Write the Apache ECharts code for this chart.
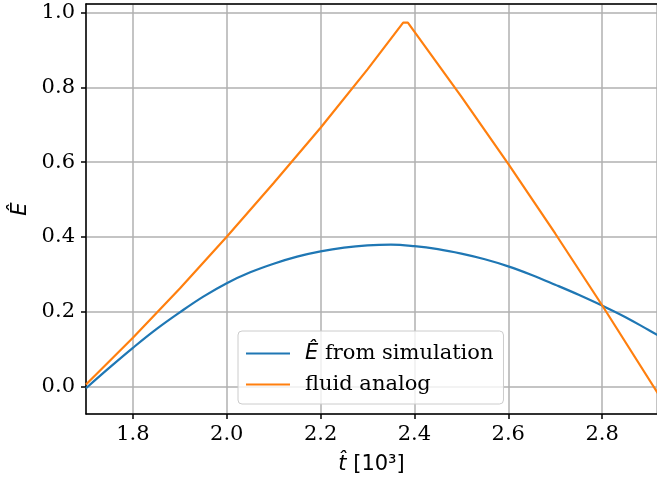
<!DOCTYPE html>
<html>
<head>
<meta charset="utf-8">
<script src="https://cdn.jsdelivr.net/npm/echarts@6/dist/echarts.min.js"></script>
<style>
  html, body { margin: 0; padding: 0; background: #fff; }
  #chart { width: 657px; height: 485px; }
</style>
</head>
<body>
<div id="chart"></div>
<script>
// Time axis (units of 10^3) and energy values for the two curves
const simT   = [1.70, 1.75, 1.80, 1.85, 1.90, 1.95, 2.00, 2.05, 2.10, 2.15, 2.20, 2.25, 2.30,
                2.35, 2.40, 2.45, 2.50, 2.55, 2.60, 2.65, 2.70, 2.75, 2.80, 2.85, 2.90, 2.92];
const simE   = [-0.005, 0.050, 0.103, 0.153, 0.198, 0.240, 0.276, 0.305, 0.328, 0.347, 0.361, 0.371, 0.377,
                0.379, 0.375, 0.367, 0.355, 0.340, 0.321, 0.298, 0.272, 0.245, 0.216, 0.185, 0.150, 0.136];

const fluidT = [1.70, 1.80, 1.90, 2.00, 2.10, 2.20, 2.30, 2.376, 2.386, 2.50, 2.60, 2.70, 2.80, 2.92];
const fluidE = [0.005, 0.130, 0.262, 0.400, 0.544, 0.692, 0.848, 0.973, 0.973, 0.775, 0.595, 0.409, 0.217, -0.021];

const xRange = [1.70, 2.917];
const yRange = [-0.074, 1.023];

const seriesNames = ['Ê from simulation', 'fluid analog'];
const seriesColors = ['#1f77b4', '#ff7f0e'];

const serif = '"DejaVu Serif", serif';
const sans = '"DejaVu Sans", sans-serif';
const fs = 21;

const pairs = (xs, ys) => xs.map((x, i) => [x, ys[i]]);

const chart = echarts.init(document.getElementById('chart'), null, { renderer: 'canvas' });

chart.setOption({
  animation: false,
  backgroundColor: '#ffffff',
  grid: { left: 86, right: 0, top: 4, bottom: 71 },
  xAxis: [
    {
      type: 'value',
      min: xRange[0], max: xRange[1],
      minInterval: 0.2, maxInterval: 0.2,
      name: '{i|t\u0302} [10³]',
      nameLocation: 'middle',
      nameGap: 40,
      nameTextStyle: {
        fontFamily: sans, fontSize: fs, color: '#000',
        rich: { i: { fontFamily: sans, fontStyle: 'italic', fontSize: fs, color: '#000' } }
      },
      axisLine: { show: true, onZero: false, lineStyle: { color: '#000', width: 1.5 } },
      axisTick: { show: true, length: 5, lineStyle: { color: '#000', width: 1.5 } },
      axisLabel: {
        fontFamily: serif, fontSize: fs, color: '#000', margin: 10,
        showMinLabel: false, showMaxLabel: false,
        formatter: v => v.toFixed(1)
      },
      splitLine: { show: true, lineStyle: { color: '#b0b0b0', width: 1.5 } }
    },
    {
      // top spine
      type: 'value', position: 'top',
      min: xRange[0], max: xRange[1],
      axisLine: { show: true, onZero: false, lineStyle: { color: '#000', width: 1.5 } },
      axisTick: { show: false }, axisLabel: { show: false }, splitLine: { show: false }
    }
  ],
  yAxis: {
    type: 'value',
    min: yRange[0], max: yRange[1],
    minInterval: 0.2, maxInterval: 0.2,
    name: 'Ê',
    nameLocation: 'middle',
    nameGap: 53,
    nameRotate: 90,
    nameTextStyle: { fontFamily: sans, fontStyle: 'italic', fontSize: fs, color: '#000' },
    axisLine: { show: true, onZero: false, lineStyle: { color: '#000', width: 1.5 } },
    axisTick: { show: true, length: 5, lineStyle: { color: '#000', width: 1.5 } },
    axisLabel: {
      fontFamily: serif, fontSize: fs, color: '#000', margin: 11,
      showMinLabel: false, showMaxLabel: false,
      formatter: v => v.toFixed(1)
    },
    splitLine: { show: true, lineStyle: { color: '#b0b0b0', width: 1.5 } }
  },
  legend: {
    orient: 'vertical',
    left: 238, top: 331,
    padding: [10, 10, 7, 8],
    itemGap: 6,
    itemWidth: 44, itemHeight: 2.2,
    icon: 'rect',
    backgroundColor: 'rgba(255,255,255,0.8)',
    borderColor: '#cccccc', borderWidth: 1, borderRadius: 4,
    data: seriesNames,
    formatter: name => name === seriesNames[0] ? '{m|Ê} from simulation' : name,
    textStyle: {
      fontFamily: serif, fontSize: fs, color: '#000', lineHeight: 25,
      padding: [0, 0, 0, 10],
      rich: { m: { fontFamily: sans, fontStyle: 'italic', fontSize: fs, color: '#000', lineHeight: 25 } }
    }
  },
  series: [
    {
      name: seriesNames[0], type: 'line',
      data: pairs(simT, simE),
      showSymbol: false, smooth: 0.4,
      lineStyle: { color: seriesColors[0], width: 2.2 },
      itemStyle: { color: seriesColors[0] },
      clip: true
    },
    {
      name: seriesNames[1], type: 'line',
      data: pairs(fluidT, fluidE),
      showSymbol: false,
      lineStyle: { color: seriesColors[1], width: 2.2 },
      itemStyle: { color: seriesColors[1] },
      clip: true
    }
  ]
});
</script>
</body>
</html>
